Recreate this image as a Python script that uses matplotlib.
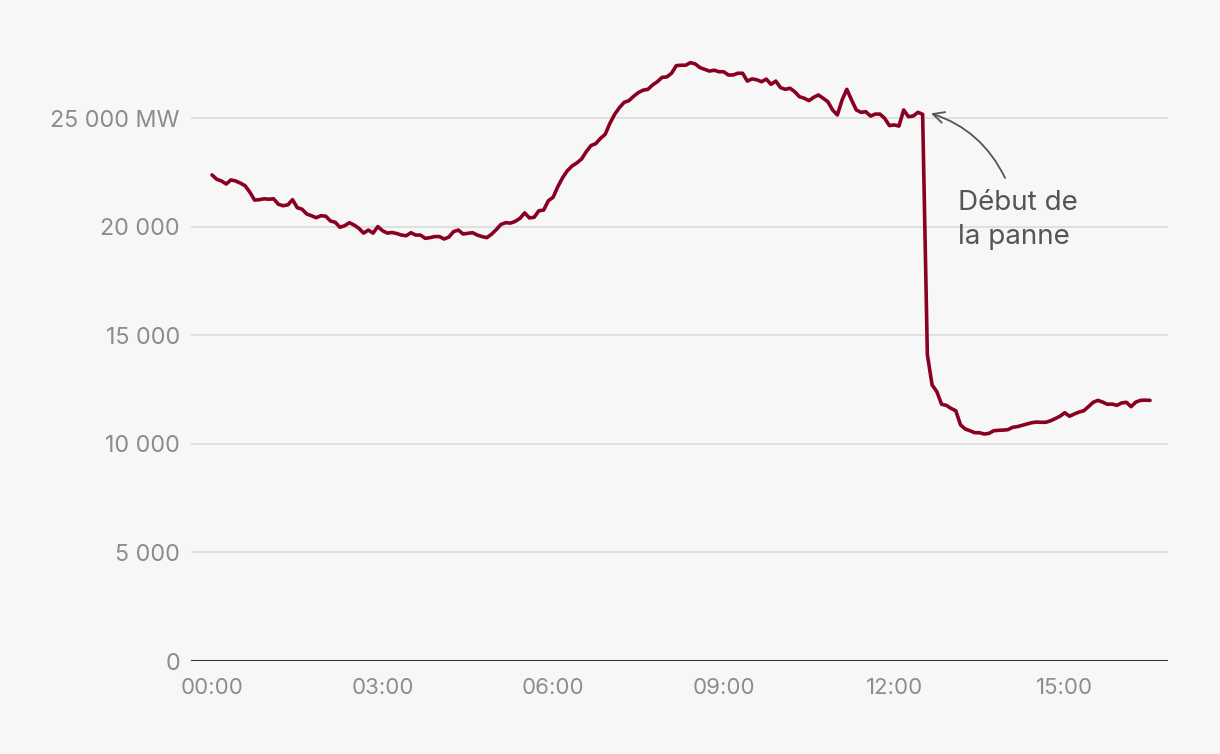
import numpy as np
import matplotlib
matplotlib.use("Agg")
from matplotlib import pyplot as plt

plt.rcParams['font.family'] = ['Inter', 'DejaVu Sans']

# demand, MW, every 5 minutes from 00:00 to 16:30
demand_k = [
    22.38, 22.18, 22.10, 21.96, 22.15, 22.10, 22.00, 21.88, 21.58, 21.22,
    21.24, 21.28, 21.26, 21.28, 21.03, 20.96, 21.00, 21.24, 20.87, 20.80,
    20.58, 20.50, 20.41, 20.50, 20.48, 20.26, 20.20, 19.97, 20.04, 20.18,
    20.07, 19.92, 19.70, 19.84, 19.70, 20.00, 19.81, 19.70, 19.73, 19.68,
    19.61, 19.58, 19.72, 19.61, 19.61, 19.46, 19.49, 19.54, 19.54, 19.43,
    19.52, 19.77, 19.84, 19.66, 19.69, 19.72, 19.61, 19.54, 19.49, 19.65,
    19.86, 20.10, 20.18, 20.16, 20.24, 20.38, 20.63, 20.40, 20.43, 20.73,
    20.76, 21.19, 21.35, 21.84, 22.25, 22.57, 22.79, 22.93, 23.11, 23.45,
    23.73, 23.82, 24.06, 24.25, 24.76, 25.17, 25.48, 25.72, 25.80, 26.00,
    26.17, 26.28, 26.32, 26.52, 26.67, 26.87, 26.89, 27.06, 27.41, 27.43,
    27.43, 27.55, 27.49, 27.32, 27.24, 27.16, 27.20, 27.13, 27.13, 26.98,
    26.98, 27.06, 27.06, 26.70, 26.80, 26.76, 26.67, 26.79, 26.55, 26.70,
    26.40, 26.32, 26.37, 26.21, 25.98, 25.91, 25.80, 25.95, 26.06, 25.91,
    25.75, 25.37, 25.14, 25.83, 26.32, 25.83, 25.37, 25.26, 25.29, 25.09,
    25.18, 25.18, 24.98, 24.65, 24.68, 24.63, 25.37, 25.06, 25.09, 25.26,
    25.17, 14.10, 12.71, 12.40, 11.82, 11.77, 11.63, 11.52, 10.87, 10.68,
    10.60, 10.51, 10.51, 10.45, 10.48, 10.60, 10.62, 10.63, 10.65, 10.76,
    10.79, 10.85, 10.91, 10.97, 11.00, 10.99, 10.99, 11.06, 11.16, 11.27,
    11.43, 11.27, 11.37, 11.46, 11.52, 11.71, 11.91, 12.00, 11.92, 11.82,
    11.83, 11.77, 11.88, 11.91, 11.71, 11.92, 12.00, 12.01, 12.00,
]
demand = np.array(demand_k) * 1000
hours = np.arange(len(demand)) * 5 / 60

y_ticks = [0, 5000, 10000, 15000, 20000, 25000]
y_labels = ["0", "5 000", "10 000", "15 000", "20 000", "25 000 MW"]
x_ticks = [0, 3, 6, 9, 12, 15]
x_labels = ["00:00", "03:00", "06:00", "09:00", "12:00", "15:00"]

bg = "#f7f7f7"
W, H = 1220, 754
fig = plt.figure(figsize=(W / 100, H / 100), dpi=100, facecolor=bg)
# axes box in pixels: left 191, right 1168, bottom 661, top 40
ax = fig.add_axes([191 / W, (H - 661) / H, (1168 - 191) / W, (661 - 40) / H])
ax.set_facecolor(bg)

px_per_k = 21.72
ax.set_ylim(0, (661 - 40) / px_per_k * 1000)
px_per_h = 56.85
ax.set_xlim((191 - 212) / px_per_h, (1168 - 212) / px_per_h)

for v in y_ticks[1:]:
    ax.axhline(v, color="#dedede", lw=1.3, zorder=1)
ax.axhline(0, color="#333333", lw=1.5, zorder=2)

ax.plot(hours, demand, color="#8a0022", lw=2.6, solid_joinstyle="round",
        solid_capstyle="round", zorder=3)

for s in ax.spines.values():
    s.set_visible(False)
ax.set_yticks(y_ticks)
ax.set_yticklabels(y_labels)
ax.set_xticks(x_ticks)
ax.set_xticklabels(x_labels)
ax.tick_params(axis="both", length=0, labelsize=16, labelcolor="#8c8c8c")
ax.tick_params(axis="y", pad=8, labelsize=16.8)
ax.tick_params(axis="x", pad=12)

ax.text(13.12, 20290, "Début de\nla panne", fontsize=20, color="#555555",
        ha="left", va="center", linespacing=1.41, zorder=4)
ax.annotate("", xy=(12.6, 25250), xytext=(13.95, 22240),
            arrowprops=dict(arrowstyle="->", color="#555555", lw=1.3,
                            shrinkA=0, shrinkB=2,
                            mutation_scale=20,
                            connectionstyle="arc3,rad=0.22"),
            zorder=4)

fig.savefig("out.png", dpi=100, facecolor=bg)
